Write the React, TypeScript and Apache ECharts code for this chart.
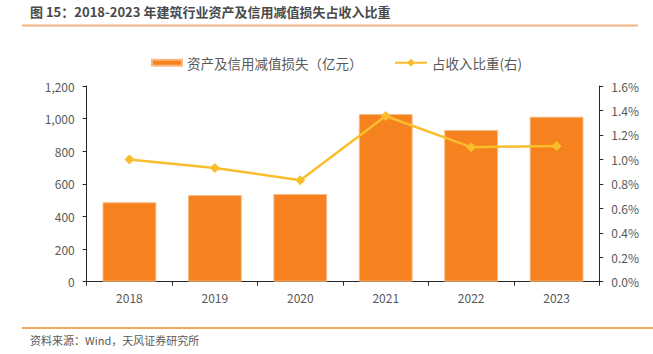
import React, { useEffect, useRef } from "react";
import * as echarts from "echarts";

const years = ["2018", "2019", "2020", "2021", "2022", "2023"];
const impairment = [487, 531, 538, 1028, 930, 1012];
const ratioPct = [1.0, 0.93, 0.83, 1.355, 1.1, 1.11];
const barName = "资产及信用减值损失（亿元）";
const lineName = "占收入比重(右)";
const titleText = "图 15：2018-2023 年建筑行业资产及信用减值损失占收入比重";
const sourceText = "资料来源：Wind，天风证券研究所";

const FONT = "'Noto Sans CJK SC', 'Noto Sans', sans-serif";
const TXT = "#595959";

export default function App() {
  const ref = useRef<HTMLDivElement>(null);
  useEffect(() => {
    if (!ref.current) return;
    const chart = echarts.init(ref.current, undefined, { renderer: "svg" });
    chart.setOption({
      animation: false,
      backgroundColor: "#ffffff",
      textStyle: { fontFamily: FONT },
      graphic: [
        {
          type: "text",
          left: 30,
          top: 5,
          style: { text: titleText, font: `bold 13px ${FONT}`, fill: "#4a4a4a" },
        },
        {
          type: "line",
          shape: { x1: 22, y1: 25.5, x2: 638, y2: 25.5 },
          style: { stroke: "#F4B183", lineWidth: 2 },
        },
        {
          type: "line",
          shape: { x1: 22, y1: 328, x2: 653, y2: 328 },
          style: { stroke: "#F08A2C", lineWidth: 1.5 },
        },
        {
          type: "text",
          left: 30,
          top: 334,
          style: { text: sourceText, font: `11px ${FONT}`, fill: TXT },
        },
      ],
      legend: [
        {
          data: [barName],
          left: 151,
          top: 56,
          padding: 0,
          itemWidth: 30,
          itemHeight: 6,
          icon: "rect",
          textStyle: { color: TXT, fontSize: 13.5, fontFamily: FONT },
        },
        {
          data: [lineName],
          left: 394,
          top: 56,
          padding: 0,
          itemWidth: 32,
          itemHeight: 10,
          textStyle: { color: TXT, fontSize: 13.5, fontFamily: FONT },
        },
      ],
      grid: { left: 86.7, right: 53.7, top: 86, bottom: 72.3, containLabel: false },
      xAxis: {
        type: "category",
        data: years,
        axisLine: { lineStyle: { color: "#262626", width: 1 } },
        axisTick: { show: true, length: 4, lineStyle: { color: "#262626" }, alignWithLabel: false },
        axisLabel: { color: TXT, fontSize: 12, margin: 10 },
      },
      yAxis: [
        {
          type: "value",
          min: 0,
          max: 1200,
          interval: 200,
          splitLine: { show: false },
          axisLine: { show: true, lineStyle: { color: "#262626" } },
          axisTick: { show: true, length: 4, lineStyle: { color: "#262626" } },
          axisLabel: {
            color: TXT,
            fontSize: 12,
            margin: 12,
            formatter: (v: number) => v.toLocaleString("en-US"),
          },
        },
        {
          type: "value",
          min: 0,
          max: 1.6,
          interval: 0.2,
          position: "right",
          splitLine: { show: false },
          axisLine: { show: true, lineStyle: { color: "#262626" } },
          axisTick: { show: true, length: 4, lineStyle: { color: "#262626" } },
          axisLabel: {
            color: TXT,
            fontSize: 12,
            margin: 12,
            formatter: (v: number) => v.toFixed(1) + "%",
          },
        },
      ],
      series: [
        {
          name: barName,
          type: "bar",
          data: impairment,
          barWidth: "63%",
          itemStyle: { color: "#F5821F", borderColor: "#F9B985", borderWidth: 1 },
        },
        {
          name: lineName,
          type: "line",
          yAxisIndex: 1,
          data: ratioPct,
          symbol: "diamond",
          symbolSize: 10,
          lineStyle: { color: "#FABD2C", width: 2.5 },
          itemStyle: { color: "#FABD2C" },
        },
      ],
    });
    return () => chart.dispose();
  }, []);
  return (
    <div
      ref={ref}
      style={{ position: "fixed", left: 0, top: 0, width: 653, height: 354 }}
    />
  );
}
